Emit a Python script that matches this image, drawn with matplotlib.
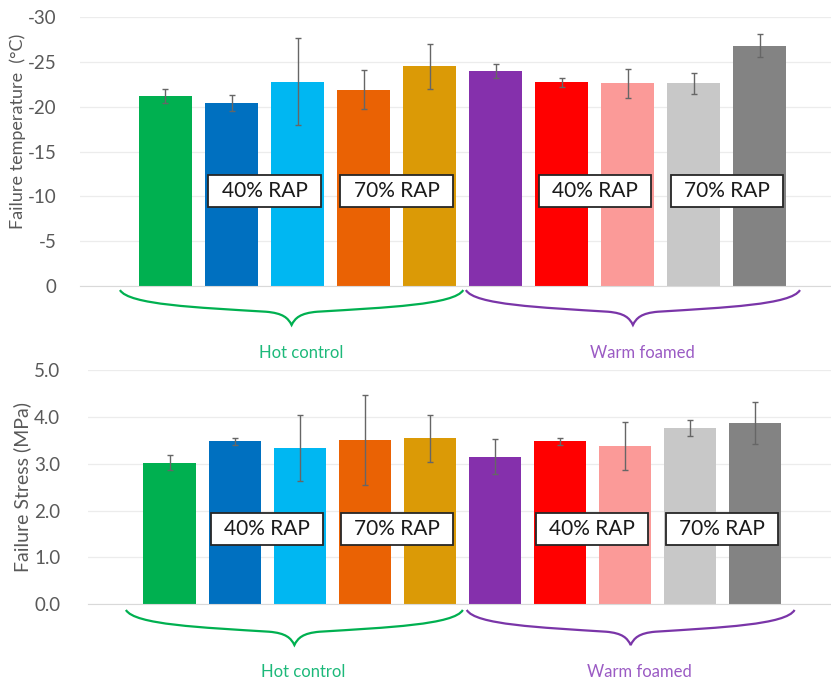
import matplotlib
matplotlib.use("Agg")
import matplotlib.pyplot as plt
from matplotlib.path import Path
from matplotlib.patches import PathPatch, Rectangle
from matplotlib.transforms import blended_transform_factory

plt.rcParams['font.family'] = ['Lato', 'DejaVu Sans']
plt.rcParams['axes.unicode_minus'] = False

# bar colours, one per mix (5 hot control, 5 warm foamed)
colors = ["#00B050", "#0070C0", "#00B7F2", "#EA6204", "#DB9A06",
          "#8530AC", "#FF0000", "#FB9A98", "#C8C8C8", "#838383"]

temp = [-21.2, -20.4, -22.8, -21.9, -24.5, -24.0, -22.7, -22.6, -22.6, -26.8]
temp_err = [0.75, 0.85, 4.85, 2.2, 2.5, 0.8, 0.5, 1.6, 1.15, 1.3]

stress = [3.02, 3.48, 3.34, 3.50, 3.54, 3.15, 3.48, 3.38, 3.77, 3.87]
stress_err = [0.16, 0.07, 0.70, 0.96, 0.50, 0.38, 0.07, 0.52, 0.17, 0.45]

rap_labels = ["40% RAP", "70% RAP", "40% RAP", "70% RAP"]
rap_pos = [1.5, 3.5, 6.5, 8.5]
groups = ["Hot control", "Warm foamed"]
group_span = [(-0.69, 4.51), (4.55, 9.61)]
brace_col = ["#00B050", "#7A35A8"]
group_txt_col = ["#1DB97A", "#9B5BC4"]

x = list(range(len(temp)))


def brace(ax, x0, x1, y0, y1, color):
    """Curly brace under the axis: x in data, y in axes fraction."""
    tr = blended_transform_factory(ax.transData, ax.transAxes)
    xm = (x0 + x1) / 2
    half = [(0, 0), (0.05, 0.42), (0.45, 0.5), (0.85, 0.62),
            (0.95, 0.66), (0.98, 0.8), (1, 1)]
    verts = [(x0 + u * (xm - x0), y0 + v * (y1 - y0)) for u, v in half]
    right = [(x1 - u * (x1 - xm), y0 + v * (y1 - y0)) for u, v in reversed(half)]
    verts = verts + right[1:]
    codes = [Path.MOVETO] + [Path.CURVE4] * 12
    ax.add_patch(PathPatch(Path(verts, codes), fc="none", ec=color, lw=1.6,
                           transform=tr, clip_on=False))


def rap_box(ax, xc, yc, w, h, text):
    ax.add_patch(Rectangle((xc - w / 2, yc - h / 2), w, h, fc="white",
                           ec="#262626", lw=1.3, zorder=5))
    ax.text(xc, yc, text, ha="center", va="center", fontsize=15,
            color="#1A1A1A", zorder=6)


def style(ax):
    for s in ["top", "right", "left"]:
        ax.spines[s].set_visible(False)
    ax.spines["bottom"].set_color("#D9D9D9")
    ax.grid(axis="y", color="#ECECEC", lw=0.9)
    ax.set_axisbelow(True)
    ax.set_xticks([])
    ax.tick_params(axis="y", length=0, labelsize=13.5, labelcolor="#595959")


fig = plt.figure(figsize=(8.31, 6.82), dpi=100)

# ---- top: failure temperature
ax1 = fig.add_axes([80 / 831, 1 - 286 / 682, 751 / 831, 269 / 682])
ax1.bar(x, temp, width=0.8, color=colors, yerr=temp_err,
        error_kw=dict(ecolor="#666666", elinewidth=1, capsize=2.5, capthick=1))
ax1.set_xlim(-1.295, 10.08)
ax1.set_ylim(0, -30)
ax1.set_yticks(range(0, -31, -5))
style(ax1)
ax1.yaxis.set_tick_params(pad=17)
for lab, p in zip(rap_labels, rap_pos):
    rap_box(ax1, p, -10.6, 1.70, 3.57, lab)
tr1 = blended_transform_factory(ax1.transData, ax1.transAxes)
for g, (a, b), bc, tc in zip(groups, group_span, brace_col, group_txt_col):
    brace(ax1, a, b, -0.015, -0.145, bc)
    ax1.text((a + b) / 2 + 0.15, -0.249, g, ha="center", va="center",
             fontsize=12, color=tc, transform=tr1)
fig.text(18 / 831, 1 - 131 / 682, "Failure temperature  (°C)", rotation=90,
         ha="center", va="center", fontsize=13, color="#595959")

# ---- bottom: failure stress
ax2 = fig.add_axes([88 / 831, 1 - 604.3 / 682, 743 / 831, 234.3 / 682])
ax2.bar(x, stress, width=0.8, color=colors, yerr=stress_err,
        error_kw=dict(ecolor="#666666", elinewidth=1, capsize=2.5, capthick=1))
ax2.set_xlim(-1.253, 10.17)
ax2.set_ylim(0, 5)
ax2.set_yticks([0, 1, 2, 3, 4, 5])
ax2.set_yticklabels(["%.1f" % v for v in [0, 1, 2, 3, 4, 5]])
style(ax2)
ax2.yaxis.set_tick_params(pad=20)
for lab, p in zip(rap_labels, rap_pos):
    rap_box(ax2, p, 1.6, 1.72, 0.68, lab)
tr2 = blended_transform_factory(ax2.transData, ax2.transAxes)
for g, (a, b), bc, tc in zip(groups, group_span, brace_col, group_txt_col):
    brace(ax2, a + 0.02, b, -0.024, -0.174, bc)
    ax2.text((a + b) / 2 + 0.15, -0.288, g, ha="center", va="center",
             fontsize=12, color=tc, transform=tr2)
fig.text(22 / 831, 1 - 487 / 682, "Failure Stress (MPa)", rotation=90,
         ha="center", va="center", fontsize=14, color="#595959")

fig.savefig("out.png", dpi=100)
